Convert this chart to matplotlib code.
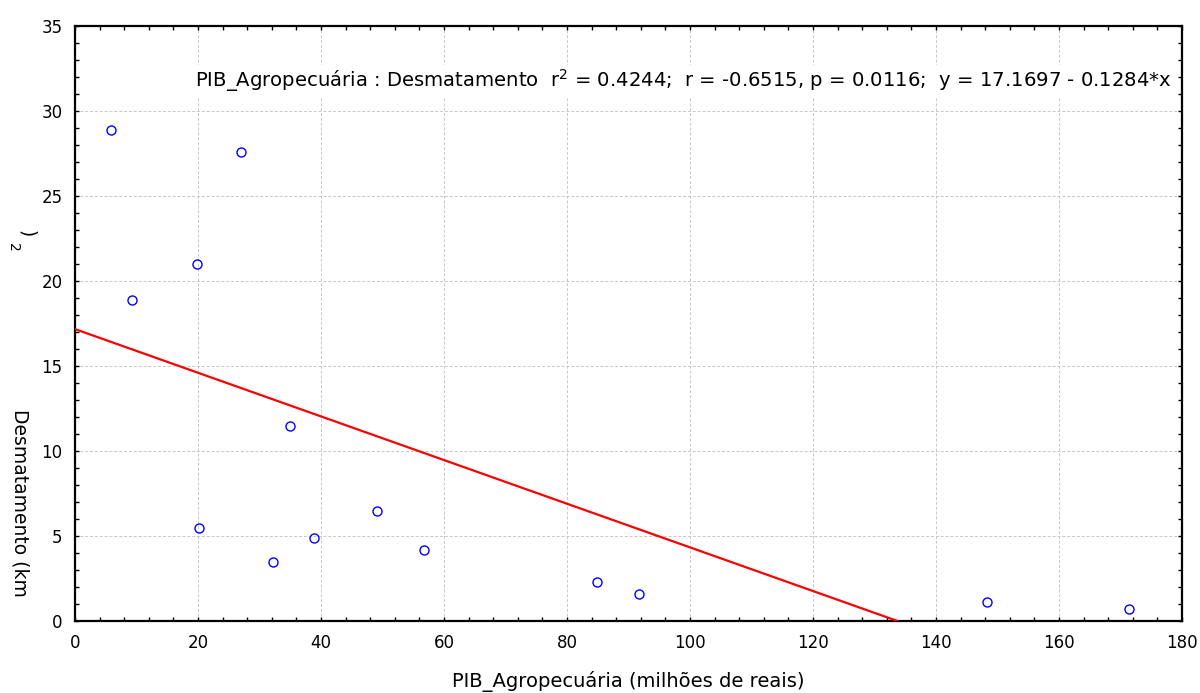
import numpy as np
import matplotlib.pyplot as plt
from matplotlib.ticker import MultipleLocator

pib = [5.9, 27.0, 19.8, 9.3, 35.0, 20.2, 32.2, 38.9, 49.1, 56.7, 84.9, 91.7, 148.3, 171.4]
desmat = [28.9, 27.6, 21.0, 18.9, 11.5, 5.5, 3.5, 4.9, 6.5, 4.2, 2.3, 1.6, 1.1, 0.7]
intercept = 17.1697
slope = -0.1284
stats_txt = "PIB_Agropecuária : Desmatamento  r$^2$ = 0.4244;  r = -0.6515, p = 0.0116;  y = 17.1697 - 0.1284*x"

plt.rcParams['font.family'] = ['DejaVu Sans']
plt.rcParams['mathtext.fontset'] = 'dejavusans'

fig = plt.figure(figsize=(12, 6.93), dpi=100)
ax = fig.add_axes([75/1200, 1-621/693, (1182-75)/1200, (621-26)/693])

# regression line from printed coefficients, stops where y hits 0
x_end = -intercept/slope
xl = np.array([0, x_end])
ax.plot(xl, intercept + slope*xl, color='red', lw=1.6, zorder=3)
ax.plot(pib, desmat, 'o', mfc='none', mec='blue', ms=6.5, mew=1, zorder=4)

ax.set_xlim(0, 180)
ax.set_ylim(0, 35)
ax.xaxis.set_major_locator(MultipleLocator(20))
ax.xaxis.set_minor_locator(MultipleLocator(4))
ax.yaxis.set_major_locator(MultipleLocator(5))
ax.yaxis.set_minor_locator(MultipleLocator(1))
ax.tick_params(which='both', direction='in', top=True, right=True, length=3, width=1, labelsize=12)
ax.tick_params(axis='x', pad=9)
ax.tick_params(axis='y', pad=9)
ax.grid(True, which='major', color='#c8c8c8', ls='--', lw=0.7, dashes=(3, 2))
for s in ax.spines.values():
    s.set_linewidth(1.6)

ax.text(0.991, 0.908, stats_txt, transform=ax.transAxes, ha='right', va='center',
        fontsize=14.1, bbox=dict(facecolor='white', edgecolor='none', pad=2), zorder=5)

ax.set_xlabel("PIB_Agropecuária (milhões de reais)", fontsize=14, labelpad=14)
fig.text(20/1200, 1-503/693, "Desmatamento (km", rotation=-90, ha='center', va='center', fontsize=13.5)
fig.text(27/1200, 1-234/693, ")", rotation=-90, ha='center', va='center', fontsize=13.5)
fig.text(13/1200, 1-247/693, "2", rotation=-90, ha='center', va='center', fontsize=10)

fig.savefig("out.png", dpi=100)
